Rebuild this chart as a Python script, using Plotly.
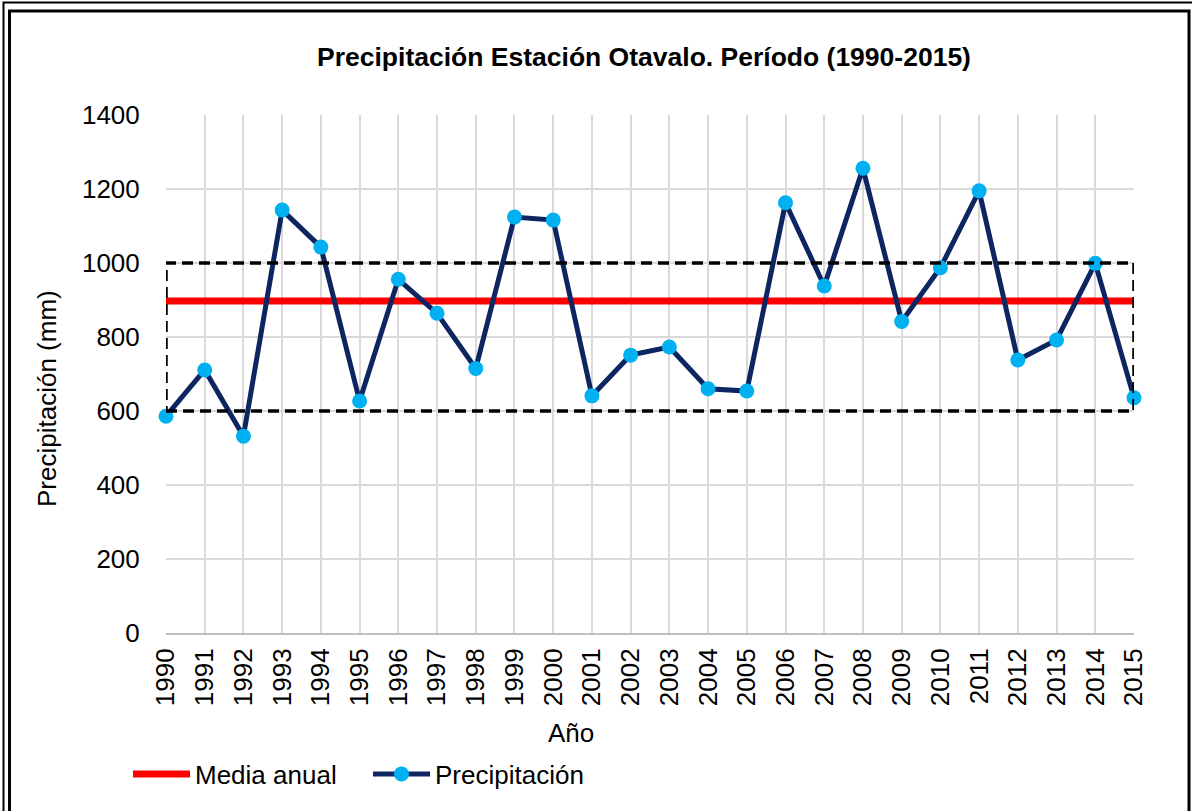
import plotly.graph_objects as go

years = list(range(1990, 2016))
precipitacion = [586, 711, 532, 1143, 1043, 627, 956, 864, 715, 1124, 1116, 641, 751,
                 773, 660, 654, 1163, 938, 1256, 842, 987, 1195, 738, 792, 999, 636]
media_anual = [897] * len(years)
banda_inferior = 600
banda_superior = 1000
y_ticks = [0, 200, 400, 600, 800, 1000, 1200, 1400]

W, H = 1192, 811
L, R, T, B = 166, 1134, 115, 633
pw, ph = R - L, B - T

def px(x):
    return (x - L) / pw

def py(y):
    return (B - y) / ph

FONT = "Liberation Sans, Arial, sans-serif"
FS = 26

fig = go.Figure()
fig.add_trace(go.Scatter(
    x=years, y=media_anual, mode="lines", name="Media anual",
    line=dict(color="#FF0000", width=7), cliponaxis=False,
))
fig.add_trace(go.Scatter(
    x=years, y=precipitacion, mode="lines+markers", name="Precipitación",
    line=dict(color="#0D2560", width=5),
    marker=dict(color="#00B0F0", size=15, line=dict(width=0)),
    cliponaxis=False,
))

shapes = [
    dict(type="rect", xref="x", yref="y", x0=years[0], x1=years[-1],
         y0=banda_inferior, y1=banda_superior,
         line=dict(color="black", width=3.5, dash="11px,6px"), layer="above"),
    dict(type="rect", xref="paper", yref="paper", x0=px(3.5), x1=px(1200),
         y0=py(830), y1=py(2.5), line=dict(color="black", width=2)),
    dict(type="rect", xref="paper", yref="paper", x0=px(9.5), x1=px(1189),
         y0=py(830), y1=py(11), line=dict(color="black", width=3)),
]

fig.update_layout(
    width=W, height=H,
    margin=dict(l=L, r=W - R, t=T, b=H - B, pad=0),
    paper_bgcolor="white", plot_bgcolor="white",
    font=dict(family=FONT, color="black", size=FS),
    title=dict(text="<b>Precipitación Estación Otavalo. Período (1990-2015)</b>",
               xref="container", x=644 / W, xanchor="center",
               yref="container", y=1 - 57 / H, yanchor="middle",
               font=dict(size=26.5, family=FONT)),
    showlegend=True,
    legend=dict(orientation="h", x=px(128), xanchor="left", y=py(774), yanchor="middle",
                font=dict(size=FS, family=FONT), tracegroupgap=0,
                itemwidth=57, entrywidth=168, entrywidthmode="pixels",
                bgcolor="rgba(0,0,0,0)"),
    shapes=shapes,
    annotations=[
        dict(text="Año", xref="paper", yref="paper", x=px(571), y=py(733),
             showarrow=False, font=dict(size=FS, family=FONT), xanchor="center", yanchor="middle"),
        dict(text="Precipitación (mm)", xref="paper", yref="paper", x=px(47), y=py(399),
             showarrow=False, textangle=-90, font=dict(size=FS, family=FONT),
             xanchor="center", yanchor="middle"),
    ],
)

fig.update_xaxes(
    range=[years[0], years[-1]], tickmode="array", tickvals=years,
    ticktext=[str(y) for y in years], tickangle=-90,
    showgrid=True, gridcolor="#D9D9D9", gridwidth=1.5,
    showline=True, linecolor="#BFBFBF", linewidth=2,
    ticks="outside", ticklen=3, tickcolor="rgba(0,0,0,0)",
    tickfont=dict(size=FS, family=FONT),
    zeroline=False, mirror=False,
)
fig.update_yaxes(
    range=[0, 1400], tickmode="array", tickvals=y_ticks,
    showgrid=True, gridcolor="#D9D9D9", gridwidth=1.5,
    showline=False, ticks="outside", ticklen=20, tickcolor="rgba(0,0,0,0)",
    tickfont=dict(size=FS, family=FONT), zeroline=False,
)

fig.write_html("out.html", config={"displayModeBar": False},
               post_script="document.body.style.margin='0';document.body.style.overflow='hidden';")
